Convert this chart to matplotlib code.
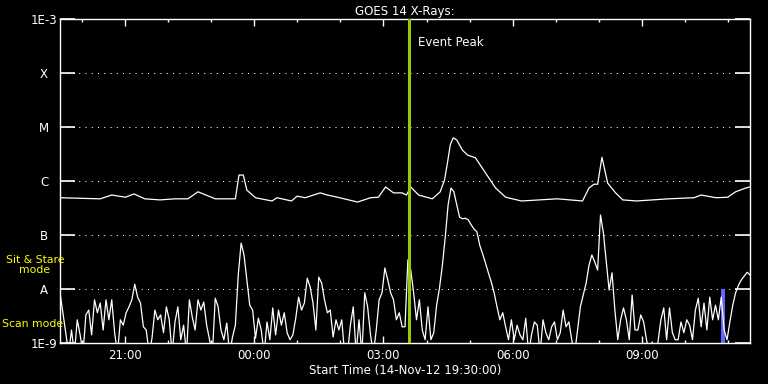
"""GOES 14 X-ray flux plot, 14-Nov-12 19:30 to 15-Nov-12 11:30."""
from datetime import datetime, timedelta

import matplotlib
matplotlib.use("Agg")
import matplotlib.pyplot as plt
import matplotlib.dates as mdates
import numpy as np

START = datetime(2012, 11, 14, 19, 30)

# long channel (1-8 A): minutes after start, log10 flux
long_min = [0, 56, 72, 91, 103, 118, 139, 160, 178, 192, 216, 244, 249, 255,
            260, 272, 295, 302, 322, 330, 341, 362, 372, 386, 414, 432, 443,
            453, 464, 476, 482, 488, 499, 518, 529, 535, 539, 543, 547, 552,
            560, 567, 578, 592, 606, 620, 642, 692, 727, 736, 743, 748, 754,
            762, 773, 783, 802, 847, 882, 892, 913, 929, 940, 954, 960]
long_log = [-6.31, -6.33, -6.26, -6.30, -6.24, -6.33, -6.35, -6.33, -6.33,
            -6.20, -6.33, -6.33, -5.89, -5.89, -6.17, -6.31, -6.37, -6.31,
            -6.37, -6.28, -6.31, -6.22, -6.26, -6.30, -6.39, -6.31, -6.30,
            -6.11, -6.22, -6.22, -6.26, -6.11, -6.26, -6.33, -6.20, -5.98,
            -5.67, -5.33, -5.20, -5.24, -5.43, -5.52, -5.57, -5.85, -6.13,
            -6.30, -6.37, -6.33, -6.37, -6.13, -6.06, -6.06, -5.56, -6.04,
            -6.22, -6.35, -6.37, -6.33, -6.31, -6.26, -6.31, -6.30, -6.20,
            -6.13, -6.11]

# short channel (0.5-4 A), one reading every 4 minutes, log10 flux
short_step_min = 4
short_log = [
    -8.07, -8.44, -8.81, -9.2, -8.76, -9.2, -8.57, -8.85, -9.2, -8.48,
    -8.39, -8.85, -8.20, -8.44, -8.26, -8.76, -8.20, -8.57, -8.20, -8.81,
    -9.2, -8.57, -8.67, -8.44, -8.33, -8.20, -7.91, -8.15, -8.26, -8.70,
    -8.76, -9.2, -8.91, -8.39, -8.57, -8.48, -8.81, -8.33, -8.57, -9.2,
    -8.61, -8.33, -8.94, -8.67, -9.2, -8.20, -8.52, -8.76, -8.20, -8.39,
    -8.24, -8.67, -8.94, -9.2, -8.17, -8.33, -8.76, -8.94, -8.63, -9.2,
    -8.89, -8.67, -7.74, -7.15, -7.37, -7.83, -8.30, -8.39, -8.91, -8.54,
    -8.76, -9.2, -8.61, -8.94, -8.35, -8.85, -8.39, -8.67, -8.44, -8.81,
    -8.94, -8.85, -8.54, -8.15, -8.39, -8.26, -7.80, -7.96, -8.26, -8.76,
    -7.78, -7.89, -8.20, -8.44, -8.39, -8.89, -8.57, -8.76, -8.57, -9.2,
    -9.2, -8.67, -8.33, -9.2, -8.57, -9.2, -8.07, -8.33, -8.85, -9.2,
    -8.76, -8.20, -8.07, -7.61, -7.83, -8.07, -8.20, -8.57, -8.44, -8.70,
    -8.70, -7.46, -7.65, -8.07, -8.57, -8.20, -8.76, -8.94, -8.33, -8.94,
    -8.81, -8.30, -7.98, -7.56, -7.04, -6.44, -6.13, -6.20, -6.44, -6.67,
    -6.70, -6.69, -6.72, -6.81, -6.89, -6.94, -7.19, -7.35, -7.52, -7.70,
    -7.87, -8.07, -8.33, -8.57, -8.44, -8.70, -8.94, -8.57, -8.94, -8.67,
    -8.85, -8.94, -8.54, -9.2, -8.85, -8.61, -8.67, -9.2, -8.57, -8.81,
    -8.94, -8.70, -8.61, -8.94, -8.81, -8.39, -8.70, -8.61, -8.94, -9.2,
    -8.76, -8.33, -8.11, -7.89, -7.56, -7.37, -7.50, -7.65, -6.63, -6.96,
    -7.50, -8.02, -7.70, -8.39, -8.94, -8.57, -8.35, -8.57, -8.94, -8.11,
    -8.76, -8.76, -8.48, -8.61, -8.94, -9.2, -8.98, -9.2, -8.98, -8.57,
    -8.35, -8.94, -8.35, -8.81, -8.94, -8.94, -8.61, -8.81, -8.57, -8.67,
    -8.94, -8.39, -8.17, -8.70, -8.26, -8.76, -8.15, -8.57, -8.30, -8.57,
    -8.15, -8.76, -8.94, -8.61, -8.30, -8.07, -7.93, -7.83, -7.76, -7.69,
    -7.74,
]

level_vals = [1e-9, 1e-8, 1e-7, 1e-6, 1e-5, 1e-4, 1e-3]
level_names = ["1E-9", "A", "B", "C", "M", "X", "1E-3"]

event_peak_min = 485
scan_window_min = (919, 925)

t_long = [START + timedelta(minutes=m) for m in long_min]
t_short = [START + timedelta(minutes=short_step_min * i) for i in range(len(short_log))]

fig = plt.figure(figsize=(7.68, 3.84), dpi=100, facecolor="black")
ax = fig.add_axes([60 / 768, 1 - 343 / 384, 690 / 768, 324 / 384], facecolor="black")

ax.set_yscale("log")
ax.set_ylim(1e-9, 1e-3)
ax.set_xlim(START, START + timedelta(hours=16))

# dotted class levels
for v in level_vals[1:-1]:
    ax.axhline(v, color="white", lw=0.75, ls=(0, (1, 5)), zorder=1)

# scan-mode marker
t0 = START + timedelta(minutes=scan_window_min[0])
t1 = START + timedelta(minutes=scan_window_min[1])
ax.fill_between([t0, t1], 1e-9, 1e-8, color="#6464ff", lw=0, zorder=2)

ax.plot(t_short, 10 ** np.array(short_log), color="white", lw=0.9, zorder=3)
ax.plot(t_long, 10 ** np.array(long_log), color="white", lw=0.9, zorder=3)

tpk = START + timedelta(minutes=event_peak_min)
ax.axvline(tpk, color="#99cc00", lw=2.2, zorder=4)
ax.text(tpk + timedelta(minutes=13), 10 ** -3.44, "Event Peak", color="white",
        fontsize=8.5, va="center", ha="left")

for s in ax.spines.values():
    s.set_color("white")
    s.set_linewidth(1.0)

ax.set_yticks(level_vals)
ax.set_yticklabels(level_names)
ax.yaxis.set_minor_locator(matplotlib.ticker.NullLocator())
ax.tick_params(axis="y", which="major", direction="in", length=10.5, width=1.2,
               color="white", labelcolor="white", labelsize=8.5, pad=11.5,
               right=True, left=True)
for lab in ax.get_yticklabels():
    lab.set_horizontalalignment("center")

ax.xaxis.set_major_locator(mdates.HourLocator(byhour=range(0, 24, 3)))
ax.xaxis.set_minor_locator(mdates.HourLocator())
ax.xaxis.set_major_formatter(mdates.DateFormatter("%H:%M"))
ax.tick_params(axis="x", which="major", direction="in", length=5, width=1,
               color="white", labelcolor="white", labelsize=8.5, pad=4,
               top=True, bottom=True)
ax.tick_params(axis="x", which="minor", direction="in", length=2.5, width=1,
               color="white", top=True, bottom=True)

ax.set_title("GOES 14 X-Rays:", color="white", fontsize=8.5, pad=3)
ax.set_xlabel("Start Time (14-Nov-12 19:30:00)", color="white", fontsize=8.5,
              labelpad=2)

fig.text(35 / 768, 1 - 265 / 384, "Sit & Stare\nmode", color="#ffff00",
         fontsize=7.8, ha="center", va="center", linespacing=1.0)
fig.text(2 / 768, 1 - 324 / 384, "Scan mode", color="#ffff00",
         fontsize=7.8, ha="left", va="center")

fig.savefig("out.png", dpi=100, facecolor="black")
